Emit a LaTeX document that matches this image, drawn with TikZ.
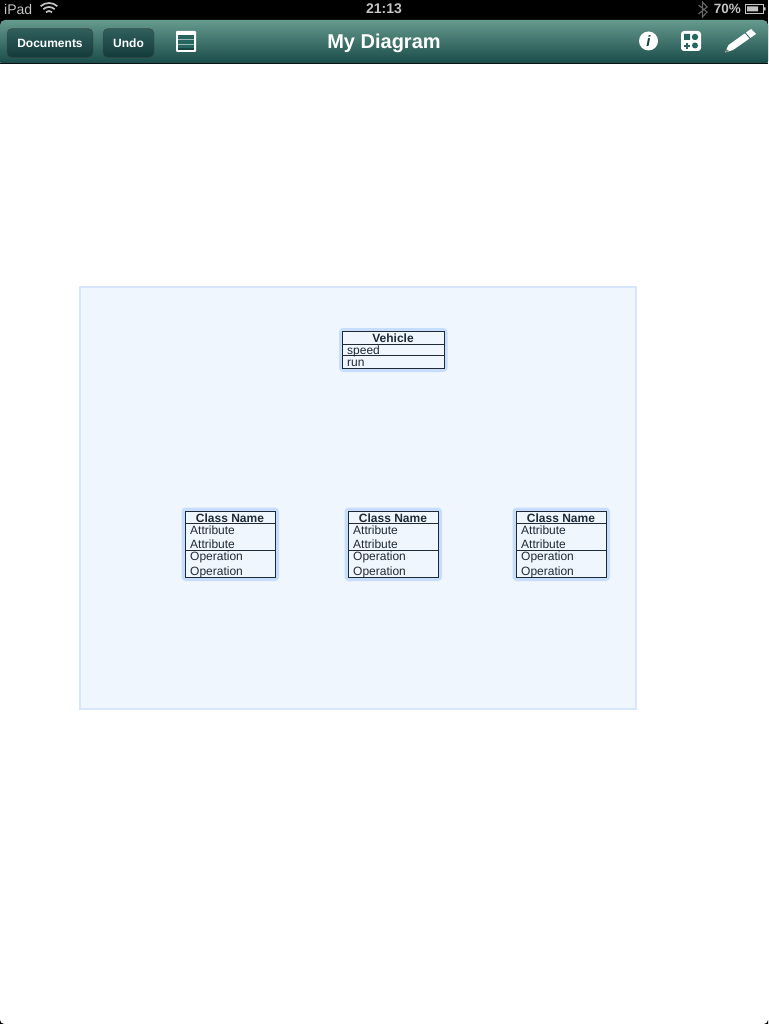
\documentclass[tikz,border=0pt]{standalone}
\usepackage{fontspec}
\setmainfont{Liberation Sans}
\usetikzlibrary{positioning}
\usetikzlibrary{shapes.misc}
\definecolor{BAR_TOP}{HTML}{659A8E}
\definecolor{BAR_MID}{HTML}{27655F}
\definecolor{BAR_LOW}{HTML}{154644}
\definecolor{BTN_TOP}{HTML}{2F5F5C}
\definecolor{BTN_LOW}{HTML}{143A3A}
\definecolor{PANEL}{HTML}{F0F6FE}
\definecolor{PANEL_E}{HTML}{D8E6FC}
\definecolor{HALO}{HTML}{C6DDFC}
\definecolor{INK}{HTML}{1E2A36}
\definecolor{STATUS}{HTML}{C4C4C4}
\tikzset{
	every node/.style = {font=\fontsize{11}{13}\selectfont, inner sep=0pt},
	barbutton/.style = {draw=black!75, rounded corners=5pt, top color=BTN_TOP, bottom color=BTN_LOW, text=white, minimum height=29pt, font=\fontsize{12}{14}\selectfont\bfseries},
	statustext/.style = {text=STATUS, font=\fontsize{14}{16}\selectfont},
	halobox/.style = {fill=HALO, rounded corners=4pt},
	rowtext/.style = {text=INK, anchor=west, font=\fontsize{12}{14}\selectfont},
	headtext/.style = {text=INK, font=\fontsize{12}{14}\selectfont\bfseries}
}

\begin{document}
\begin{tikzpicture}[x=1pt, y=1pt]
		\useasboundingbox (0,0) rectangle (768,-1024);
		% status bar
		\fill[black] (0,0) rectangle (768,-26);
		\node[statustext, anchor=west] (carrier) at (4,-9) {iPad};
		\node[statustext, font=\fontsize{14}{16}\selectfont\bfseries] (clock) at (384,-9) {21:13};
		\node[statustext, font=\fontsize{13.5}{16}\selectfont\bfseries, anchor=east] (charge) at (741,-9) {70\%};
		% wifi
		\foreach \r in {4.5,8.5,12.5}
			\draw[STATUS, line width=1.7pt] (49,-15.5)++(48:\r) arc (48:132:\r);
		% bluetooth
		\draw[gray!80!black, line width=1.1pt] (698.5,-5)--(707,-12)--(702.5,-17)--(702.5,-2)--(707,-7)--(698.5,-14);
		% battery
		\draw[STATUS, line width=1pt] (745,-4.5) rectangle (763,-13.5);
		\fill[STATUS] (747,-6.5) rectangle (758,-11.5) (764,-7.5) rectangle (765.5,-10.5);
		% toolbar
		\fill[top color=BAR_TOP, middle color=BAR_MID, bottom color=BAR_LOW, rounded corners=5pt] (0,-66) -- (0,-20) -- (768,-20) -- (768,-66) -- cycle;
		\fill[black!70!BAR_LOW] (0,-63) rectangle (768,-64.5);
		\fill[white] (0,-64.5) rectangle (768,-72);
		\node[barbutton, minimum width=86pt] (documents) at (50,-43) {Documents};
		\node[barbutton, minimum width=51pt] (undo) at (128.5,-43) {Undo};
		\node[text=white, font=\fontsize{20}{22}\selectfont\bfseries] (title) at (384,-43.5) {My Diagram};
		% table icon
		\fill[white, rounded corners=1pt] (176,-31) rectangle (196,-52);
		\fill[BAR_MID] (178,-35) rectangle (194,-50);
		\fill[BAR_LOW] (178,-48) rectangle (194,-50);
		\draw[white!55!BAR_MID] (178,-39.5) -- (194,-39.5) (178,-44) -- (194,-44);
		% info icon
		\fill[white] (648.5,-41) circle (9.5);
		\node[text=BAR_LOW, font=\fontsize{15}{15}\selectfont\bfseries\itshape] (info) at (648.5,-41) {i};
		% shapes icon
		\fill[white, rounded corners=3pt] (681,-31) rectangle (701,-51);
		\fill[BAR_MID] (684,-34) rectangle (690,-40) (695,-37) circle (3.2) (695,-45.5) circle (3);
		\draw[BAR_MID, line width=1.3pt] (684,-46) -- (690,-46) (687,-43) -- (687,-49);
		% pencil icon
		\fill[white] (725,-52.5) -- (728.5,-45) -- (751,-29) -- (756,-34) -- (733,-50) -- cycle;
		\draw[BAR_MID, line width=.8pt] (745,-32.5) -- (750.5,-39);
		\fill[gray] (725,-52.5) -- (726.5,-49) -- (729,-51.2) -- cycle;
		% canvas
		\draw[PANEL_E, fill=PANEL, line width=1.2pt] (80,-287) rectangle (636,-709);
		% vehicle class
		\fill[halobox] (339,-328) rectangle (447.5,-372);
		\draw[INK, fill=PANEL, line width=1pt] (342.5,-331.5) rectangle (444.5,-368);
		\draw[INK, line width=1pt] (342.5,-344) -- (444.5,-344) (342.5,-355.5) -- (444.5,-355.5);
		\node[headtext] (vehicle) at (393,-338) {Vehicle};
		\node[rowtext] (speed) at (347,-351) {speed};
		\node[rowtext] (run) at (347,-363) {run};
		% empty classes
		\foreach \x/\n in {185/left, 348/middle, 516/right} {
			\fill[halobox] (\x-3.5,-507.5) rectangle (\x+94,-581);
			\draw[INK, fill=PANEL, line width=1pt] (\x,-511.5) rectangle (\x+90.5,-577);
			\draw[INK, line width=1pt] (\x,-523.5) -- (\x+90.5,-523.5) (\x,-550.5) -- (\x+90.5,-550.5);
			\node[headtext] (\n head) at (\x+45,-518) {Class Name};
			\node[rowtext] (\n attra) at (\x+5,-530.5) {Attribute};
			\node[rowtext] (\n attrb) at (\x+5,-544) {Attribute};
			\node[rowtext] (\n opa) at (\x+5,-557) {Operation};
			\node[rowtext] (\n opb) at (\x+5,-572.5) {Operation};
		}
		% screen corners
		\fill[black] (0,-1024) -- (0,-1020) arc (180:270:4) -- cycle;
		\fill[black] (768,-1024) -- (768,-1020) arc (0:-90:4) -- cycle;
	\end{tikzpicture}
\end{document}
